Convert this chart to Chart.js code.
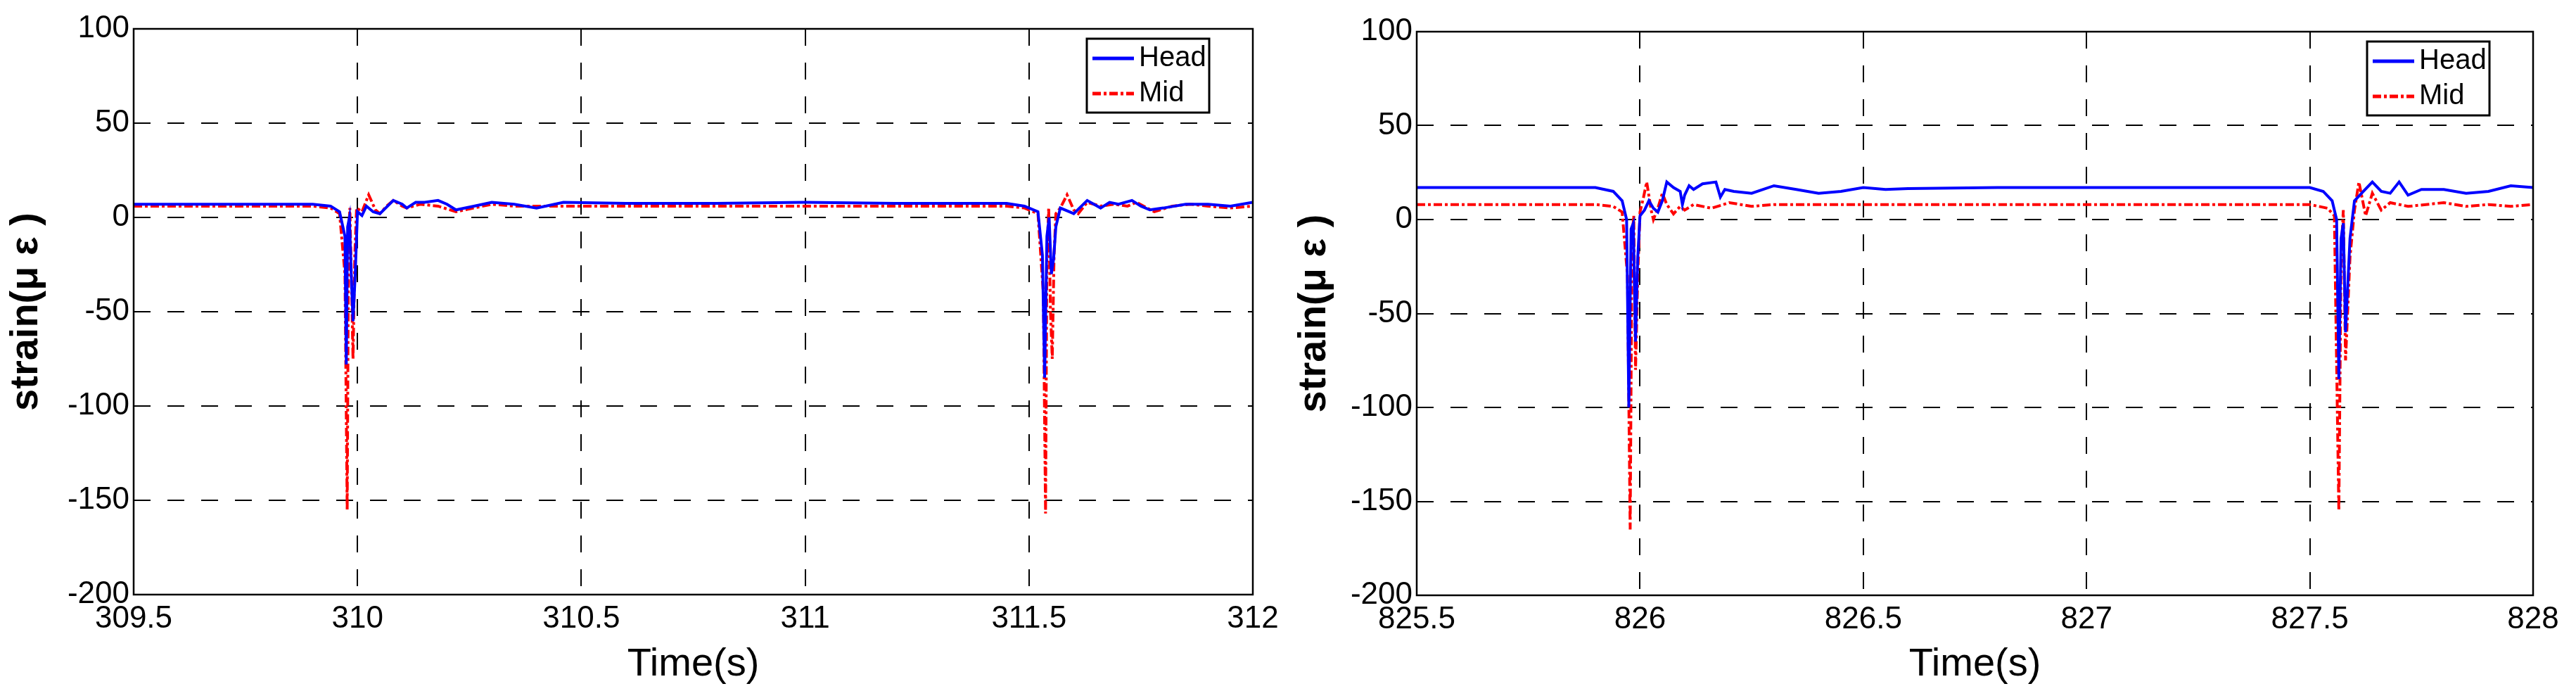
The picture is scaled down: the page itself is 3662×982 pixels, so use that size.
<!DOCTYPE html>
<html><head><meta charset="utf-8">
<script src="https://cdn.jsdelivr.net/npm/chart.js@4/dist/chart.umd.min.js"></script>
<style>body{margin:0;background:#fff;width:3662px;height:982px;overflow:hidden}
.w{position:absolute;top:0;width:1831px;height:982px}</style></head><body>
<div class="w" style="left:0"><canvas id="c1"></canvas></div>
<div class="w" style="left:1831px"><canvas id="c2"></canvas></div>
<script>
const yTicks=[-200,-150,-100,-50,0,50,100];
const xTicksL=[309.5,310,310.5,311,311.5,312];
const xTicksR=[825.5,826,826.5,827,827.5,828];
const seriesNames=['Head','Mid'];
const headTL=[309.5,309.7,309.9,309.94,309.96,309.972,309.975,309.978,309.982,309.986,309.99,309.995,310.0,310.01,310.02,310.035,310.05,310.08,310.1,310.11,310.13,310.15,310.18,310.2,310.22,310.26,310.3,310.35,310.4,310.46,310.6,310.8,311.0,311.2,311.45,311.49,311.52,311.53,311.535,311.54,311.545,311.55,311.555,311.56,311.57,311.59,311.6,311.63,311.66,311.68,311.7,311.73,311.75,311.77,311.8,311.85,311.9,311.95,312];
const headVL=[7,7,7,6,3,-10,-78,-5,0,-30,-55,-30,3,1,6,3,2,9,7,5,8,8,9,7,4,6,8,7,5,8,7.5,7.5,8,7.5,7.5,6,3,-20,-85,-10,0,-30,-22,-5,5,3,2,9,5,8,7,9,6,4,5,7,7,6,8];
const midTL=[309.5,309.7,309.9,309.94,309.96,309.972,309.977,309.98,309.983,309.987,309.99,309.994,309.998,310.01,310.025,310.04,310.05,310.065,310.08,310.1,310.11,310.14,310.18,310.22,310.26,310.3,310.35,310.4,310.6,310.8,311.0,311.2,311.45,311.49,311.52,311.532,311.537,311.54,311.544,311.548,311.552,311.556,311.56,311.57,311.585,311.6,311.61,311.63,311.66,311.69,311.72,311.74,311.78,311.82,311.86,311.9,311.95,312];
const midVL=[6,6,6,5,2,-30,-155,-10,5,-40,-75,-20,5,3,12,4,2,6,9,6,5,7,6,3,5,7,6,6,6,6,6,6,6,5,2,-40,-157,-20,5,-50,-75,-20,2,5,12,4,2,8,6,7,6,8,3,6,7,6,5,6];
const headTR=[825.5,825.7,825.9,825.94,825.96,825.97,825.975,825.98,825.985,825.99,825.995,826.0,826.01,826.02,826.03,826.04,826.05,826.06,826.075,826.09,826.095,826.1,826.11,826.12,826.14,826.17,826.18,826.19,826.21,826.25,826.3,826.35,826.4,826.45,826.5,826.55,826.6,826.8,827.0,827.3,827.5,827.53,827.55,827.56,827.565,827.57,827.575,827.58,827.59,827.6,827.62,827.64,827.66,827.68,827.7,827.72,827.75,827.8,827.85,827.9,827.95,828];
const headVR=[17,17,17,15,10,0,-100,-5,-2,-65,-20,2,5,10,6,4,10,20,17,15,8,13,18,16,19,20,12,16,15,14,18,16,14,15,17,16,16.5,17,17,17,17,15,10,0,-85,-10,-2,-60,-10,10,15,20,15,14,20,13,16,16,14,15,18,17];
const midTR=[825.5,825.7,825.9,825.94,825.96,825.972,825.978,825.982,825.986,825.99,825.995,826.0,826.008,826.015,826.025,826.03,826.04,826.05,826.06,826.075,826.09,826.1,826.12,826.16,826.2,826.25,826.3,826.5,826.8,827.0,827.3,827.5,827.54,827.555,827.565,827.57,827.575,827.58,827.59,827.6,827.61,827.625,827.64,827.66,827.68,827.72,827.76,827.8,827.85,827.9,827.95,828];
const midVR=[8,8,8,7,4,-30,-165,-10,2,-80,-30,4,12,20,5,0,6,14,8,3,7,5,8,6,9,7,8,8,8,8,8,8,6,2,-155,-20,5,-75,-20,5,20,2,14,5,9,7,8,9,7,8,7,8];
function pts(t,v){return t.map((x,i)=>({x:x,y:v[i]}));}
const FONT="'Liberation Sans', Arial, sans-serif";
const frame={id:'frame',afterDraw(ch){const a=ch.chartArea,c=ch.ctx;c.save();c.strokeStyle='#000';c.lineWidth=2.5;c.strokeRect(a.left,a.top,a.right-a.left,a.bottom-a.top);
 const bx=a.right-236,by=a.top+14,bw=174,bh=105;c.fillStyle='#fff';c.fillRect(bx,by,bw,bh);c.lineWidth=3;c.strokeRect(bx,by,bw,bh);
 ch.data.datasets.forEach((d,i)=>{const y=by+28+i*50;c.strokeStyle=d.borderColor;c.lineWidth=5;c.setLineDash(d.borderDash||[]);c.beginPath();c.moveTo(bx+8,y);c.lineTo(bx+67,y);c.stroke();c.setLineDash([]);
  c.fillStyle='#000';c.font="40px "+FONT;c.textBaseline='middle';c.fillText(d.label,bx+74,y);});
 c.restore();}};
function make(id,xt,hd,md,yw,padR,padT,xh){
 new Chart(document.getElementById(id),{type:'scatter',data:{datasets:[
  {label:seriesNames[0],data:hd,showLine:true,borderColor:'#0000ff',borderWidth:4,pointRadius:0,tension:0},
  {label:seriesNames[1],data:md,showLine:true,borderColor:'#ff0000',borderWidth:4,borderDash:[12,4,4,4],pointRadius:0,tension:0}]},
 options:{responsive:false,animation:false,devicePixelRatio:1,layout:{padding:{top:padT,right:padR,left:0,bottom:0}},
  plugins:{legend:{display:false},tooltip:{enabled:false}},
  scales:{
   x:{type:'linear',min:xt[0],max:xt[xt.length-1],afterBuildTicks:s=>{s.ticks=xt.map(v=>({value:v}));},afterFit:s=>{s.height=xh;},
    ticks:{color:'#000',font:{size:44,family:FONT},padding:8,maxRotation:0,autoSkip:false,callback:v=>String(v)},
    grid:{color:'#000',lineWidth:2,drawTicks:false,borderDash:[24,24]},border:{display:false,dash:[24,24]},
    title:{display:true,text:'Time(s)',color:'#000',font:{size:56,family:FONT},padding:{top:0}}},
   y:{min:-200,max:100,afterBuildTicks:s=>{s.ticks=yTicks.map(v=>({value:v}));},afterFit:s=>{s.width=yw;},
    ticks:{color:'#000',font:{size:44,family:FONT},padding:6},
    grid:{color:'#000',lineWidth:2,drawTicks:false},border:{display:false,dash:[24,24]},
    title:{display:true,text:'strain(μ ε )',color:'#000',font:{size:56,family:FONT,weight:'bold'},padding:{bottom:0}}}}},
 plugins:[frame]});
}
document.getElementById('c1').width=1831;document.getElementById('c1').height=982;
document.getElementById('c2').width=1831;document.getElementById('c2').height=982;
make('c1',xTicksL,pts(headTL,headVL),pts(midTL,midVL),190,50,41,137);
make('c2',xTicksR,pts(headTR,headVR),pts(midTR,midVR),183,61,45,136);
</script></body></html>
